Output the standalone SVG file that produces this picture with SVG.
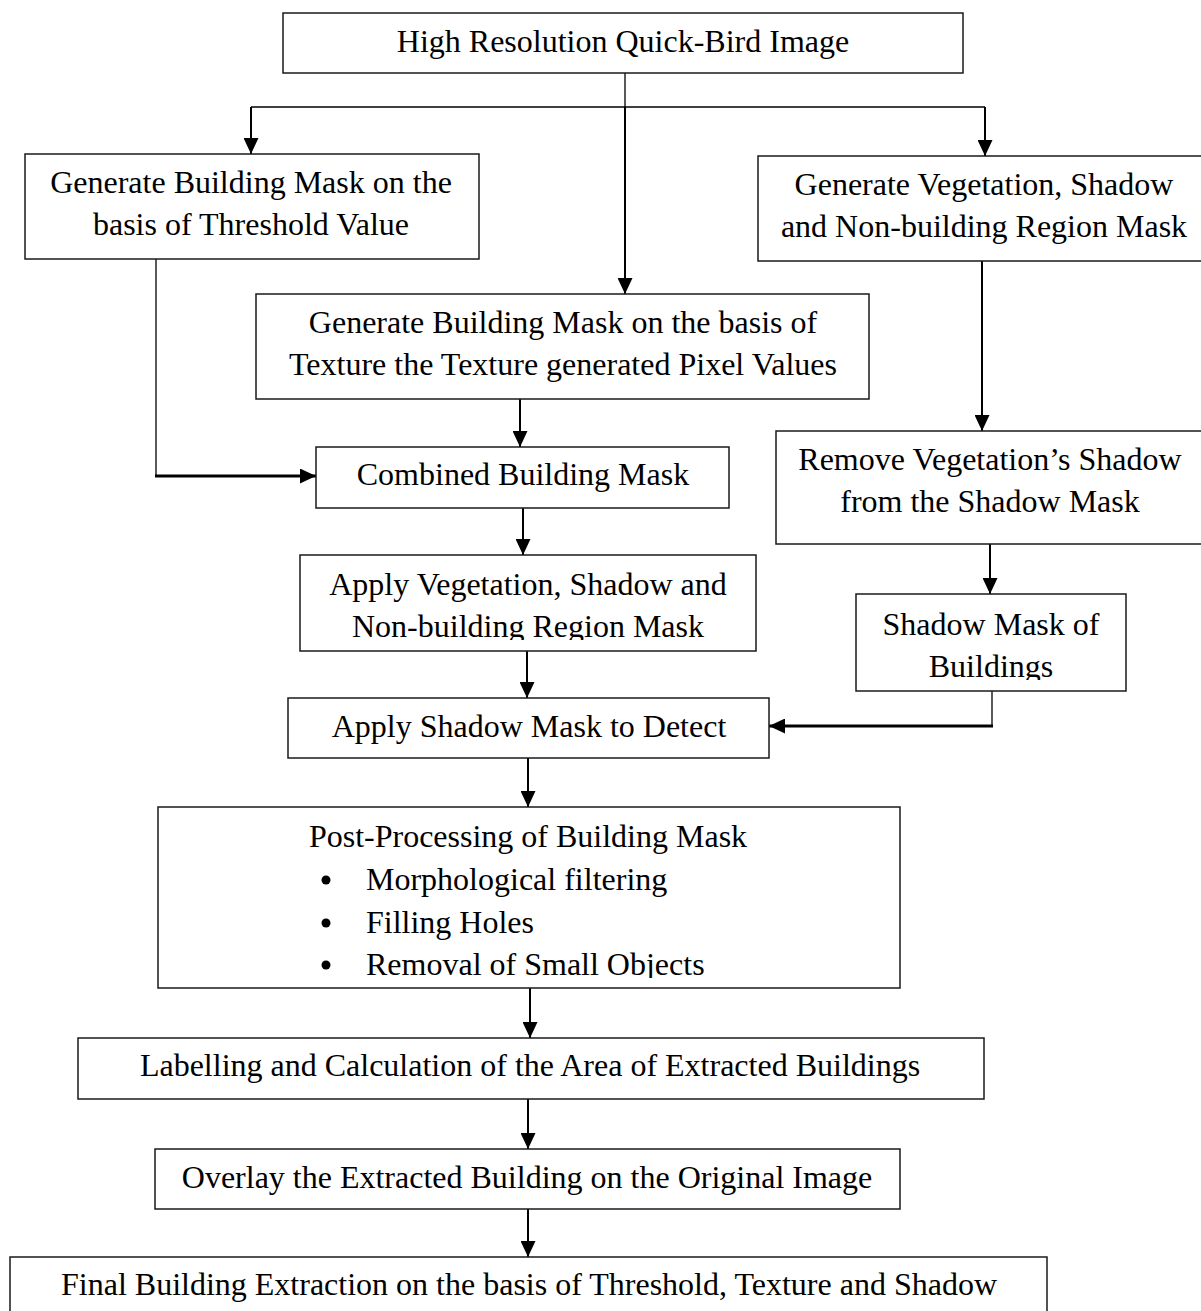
<svg xmlns="http://www.w3.org/2000/svg" width="1201" height="1311" viewBox="0 0 1201 1311">
  <style>
    .box { fill: #fff; stroke: #1a1a1a; stroke-width: 1.5; }
    .lbl { font-family: "Liberation Serif", "Times New Roman", serif; font-size: 32px; fill: #000; text-anchor: middle; }
    .lft { text-anchor: start; }
    .ln { fill: none; stroke: #000; stroke-width: 2; }
    .thin { stroke-width: 1.3; }
    .thick { stroke-width: 2.8; }
    .arr { marker-end: url(#ah); }
  </style>
  <defs>
    <marker id="ah" markerUnits="userSpaceOnUse" markerWidth="16" markerHeight="15" refX="16" refY="7.5" orient="auto">
      <path d="M0,0 L16,7.5 L0,15 Z" fill="#000"/>
    </marker>
    <clipPath id="cpVeg"><rect x="300" y="555" width="456" height="85"/></clipPath>
    <clipPath id="cpShd"><rect x="856" y="594" width="270" height="86"/></clipPath>
    <clipPath id="cpPost"><rect x="158" y="807" width="742" height="171"/></clipPath>
  </defs>

  <!-- connectors -->
  <g id="connectors">
    <path class="ln thin" d="M625,73 V107"/>
    <path class="ln arr" d="M625,107 V294"/>
    <path class="ln thin" d="M251,107 H985"/>
    <path class="ln arr" d="M251,107 V154"/>
    <path class="ln arr" d="M985,107 V156"/>
    <path class="ln thin" d="M156,259 V476"/>
    <path class="ln thick arr" d="M155,476 H316"/>
    <path class="ln arr" d="M520,399 V447"/>
    <path class="ln arr" d="M982,261 V431"/>
    <path class="ln arr" d="M523,508 V555"/>
    <path class="ln arr" d="M990,544 V594"/>
    <path class="ln arr" d="M527,651 V698"/>
    <path class="ln thin" d="M992,691 V726"/>
    <path class="ln thick arr" d="M993,726 H769"/>
    <path class="ln arr" d="M528,758 V807"/>
    <path class="ln arr" d="M530,988 V1038"/>
    <path class="ln arr" d="M528,1099 V1149"/>
    <path class="ln arr" d="M528,1209 V1257"/>
  </g>

  <!-- nodes -->
  <g id="n-input">
    <rect class="box" x="283" y="13" width="680" height="60"/>
    <text class="lbl" x="623" y="52">High Resolution Quick-Bird Image</text>
  </g>

  <g id="n-threshold">
    <rect class="box" x="25" y="154" width="454" height="105"/>
    <text class="lbl" x="251" y="193">Generate Building Mask on the</text>
    <text class="lbl" x="251" y="235">basis of Threshold Value</text>
  </g>

  <g id="n-vegmask">
    <rect class="box" x="758" y="156" width="460" height="105"/>
    <text class="lbl" x="984" y="195">Generate Vegetation, Shadow</text>
    <text class="lbl" x="984" y="237">and Non-building Region Mask</text>
  </g>

  <g id="n-texture">
    <rect class="box" x="256" y="294" width="613" height="105"/>
    <text class="lbl" x="563" y="333">Generate Building Mask on the basis of</text>
    <text class="lbl" x="563" y="375">Texture the Texture generated Pixel Values</text>
  </g>

  <g id="n-combined">
    <rect class="box" x="316" y="447" width="413" height="61"/>
    <text class="lbl" x="523" y="485">Combined Building Mask</text>
  </g>

  <g id="n-remove">
    <rect class="box" x="776" y="431" width="440" height="113"/>
    <text class="lbl" x="990" y="470">Remove Vegetation’s Shadow</text>
    <text class="lbl" x="990" y="512">from the Shadow Mask</text>
  </g>

  <g id="n-applyveg">
    <rect class="box" x="300" y="555" width="456" height="96"/>
    <g clip-path="url(#cpVeg)">
      <text class="lbl" x="528" y="595">Apply Vegetation, Shadow and</text>
      <text class="lbl" x="528" y="637">Non-building Region Mask</text>
    </g>
  </g>

  <g id="n-shadowmask">
    <rect class="box" x="856" y="594" width="270" height="97"/>
    <g clip-path="url(#cpShd)">
      <text class="lbl" x="991" y="635">Shadow Mask of</text>
      <text class="lbl" x="991" y="677">Buildings</text>
    </g>
  </g>

  <g id="n-applyshadow">
    <rect class="box" x="288" y="698" width="481" height="60"/>
    <text class="lbl" x="529" y="737">Apply Shadow Mask to Detect</text>
  </g>

  <g id="n-post">
    <rect class="box" x="158" y="807" width="742" height="181"/>
    <g clip-path="url(#cpPost)">
      <text class="lbl" x="528" y="847">Post-Processing of Building Mask</text>
      <circle cx="326" cy="880" r="4.5"/>
      <text class="lbl lft" x="366" y="890">Morphological filtering</text>
      <circle cx="326" cy="923" r="4.5"/>
      <text class="lbl lft" x="366" y="933">Filling Holes</text>
      <circle cx="326" cy="965" r="4.5"/>
      <text class="lbl lft" x="366" y="975">Removal of Small Objects</text>
    </g>
  </g>

  <g id="n-label">
    <rect class="box" x="78" y="1038" width="906" height="61"/>
    <text class="lbl" x="530" y="1076">Labelling and Calculation of the Area of Extracted Buildings</text>
  </g>

  <g id="n-overlay">
    <rect class="box" x="155" y="1149" width="745" height="60"/>
    <text class="lbl" x="527" y="1188">Overlay the Extracted Building on the Original Image</text>
  </g>

  <g id="n-final">
    <rect class="box" x="10" y="1257" width="1037" height="70"/>
    <text class="lbl" x="529" y="1295">Final Building Extraction on the basis of Threshold, Texture and Shadow</text>
  </g>
</svg>
